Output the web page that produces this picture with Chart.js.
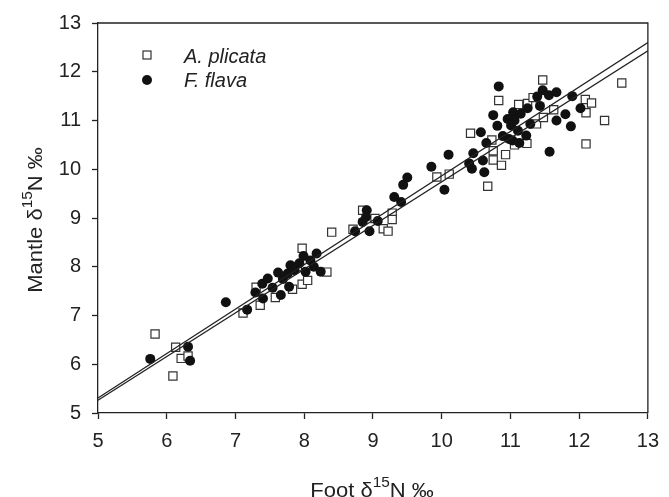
<!DOCTYPE html>
<html>
<head>
<meta charset="utf-8">
<script src="https://cdn.jsdelivr.net/npm/chart.js@4/dist/chart.umd.min.js"></script>
<style>
  html, body { margin: 0; padding: 0; background: #fff; }
  #wrap { width: 669px; height: 497px; }
</style>
</head>
<body>
<div id="wrap"><canvas id="isotopeChart" width="669" height="497"></canvas></div>
<script>
// foot vs mantle d15N, two species
const footPlicata = [5.83, 6.13, 6.21, 6.31, 6.09, 7.11, 7.30, 7.36, 7.58, 7.83, 7.97, 8.05, 7.97, 7.90, 8.33,
  8.40, 8.71, 8.85, 9.03, 9.15, 9.22, 9.28, 9.28, 9.93, 10.11, 10.42, 10.67, 10.73, 10.75, 10.75, 10.87,
  10.93, 10.83, 11.12, 11.24, 11.25, 11.38, 11.33, 11.47, 11.48, 11.63, 12.09, 12.18, 12.10, 12.10, 12.37,
  12.62, 11.06];
const mantlePlicata = [6.62, 6.35, 6.12, 6.17, 5.76, 7.05, 7.58, 7.21, 7.37, 7.54, 7.64, 7.72, 8.38, 8.00, 7.89,
  8.71, 8.77, 9.16, 8.99, 8.78, 8.73, 9.10, 8.97, 9.84, 9.90, 10.74, 9.65, 10.60, 10.38, 10.19, 10.08,
  10.30, 11.41, 11.33, 10.53, 11.35, 10.93, 11.47, 11.83, 11.06, 11.22, 11.43, 11.36, 11.16, 10.52, 11.00,
  11.77, 10.50];

const footFlava = [5.76, 6.31, 6.34, 6.86, 7.17, 7.29, 7.39, 7.40, 7.47, 7.54, 7.62, 7.66, 7.69, 7.76, 7.80,
  7.78, 7.86, 7.93, 7.99, 8.02, 8.09, 8.18, 8.14, 8.24, 8.74, 8.85, 8.91, 8.90, 8.95, 9.07, 9.31, 9.41,
  9.44, 9.50, 9.85, 10.04, 10.10, 10.40, 10.44, 10.46, 10.57, 10.60, 10.62, 10.65, 10.75, 10.83, 10.81,
  10.89, 10.98, 11.04, 11.06, 11.15, 10.96, 11.01, 11.11, 11.23, 11.29, 11.03, 11.13, 11.25, 11.39, 11.43,
  11.47, 11.56, 11.67, 11.57, 11.67, 11.80, 11.90, 11.88, 12.02];
const mantleFlava = [6.11, 6.36, 6.07, 7.27, 7.12, 7.47, 7.65, 7.35, 7.76, 7.57, 7.88, 7.42, 7.75, 7.86, 8.03,
  7.59, 7.93, 8.07, 8.22, 7.90, 8.13, 8.27, 8.00, 7.90, 8.73, 8.92, 9.16, 9.02, 8.73, 8.94, 9.43, 9.33,
  9.68, 9.83, 10.05, 9.58, 10.30, 10.12, 10.01, 10.33, 10.76, 10.18, 9.94, 10.54, 11.11, 11.70, 10.89,
  10.68, 10.62, 11.17, 11.00, 11.14, 11.03, 10.90, 10.79, 10.69, 10.93, 10.59, 10.54, 11.25, 11.49, 11.30,
  11.62, 11.52, 11.58, 10.36, 11.00, 11.13, 11.50, 10.88, 11.25];

// fitted regression lines, end points at the axis limits
const fitFoot = [5, 13];
const fitPlicata = [5.31, 12.60];
const fitFlava = [5.26, 12.43];

const xTicks = [5, 6, 7, 8, 9, 10, 11, 12, 13];
const yTicks = [5, 6, 7, 8, 9, 10, 11, 12, 13];

const INK = "#222";
const FONT = '"Liberation Sans", Arial, sans-serif';

const toPoints = (xs, ys) => xs.map((x, i) => ({ x: x, y: ys[i] }));

// axis title with a raised "15", stretched a little wider than the tick font
function drawIsoLabel(ctx, pre, sup, post, cx, baseY, size) {
  const main = size + "px " + FONT;
  const small = Math.round(size * 0.7) + "px " + FONT;
  ctx.font = main;
  const w1 = ctx.measureText(pre).width;
  const w3 = ctx.measureText(post).width;
  ctx.font = small;
  const w2 = ctx.measureText(sup).width;
  ctx.save();
  ctx.translate(cx, baseY);
  ctx.scale(1.1, 1);
  let x = -(w1 + w2 + w3) / 2;
  ctx.textAlign = "left";
  ctx.textBaseline = "alphabetic";
  ctx.font = main;
  ctx.fillText(pre, x, 0);
  x += w1;
  ctx.font = small;
  ctx.fillText(sup, x, -size * 0.5);
  x += w2;
  ctx.font = main;
  ctx.fillText(post, x, 0);
  ctx.restore();
}

const decorPlugin = {
  id: "decor",
  afterDraw(chart) {
    const { ctx, chartArea: a } = chart;
    ctx.save();

    // close the frame on top and right
    ctx.strokeStyle = INK;
    ctx.lineWidth = 1.3;
    ctx.beginPath();
    ctx.moveTo(a.left, a.top);
    ctx.lineTo(a.right, a.top);
    ctx.lineTo(a.right, a.bottom);
    ctx.stroke();

    ctx.fillStyle = INK;
    drawIsoLabel(ctx, "Foot \u03b4", "15", "N \u2030", 372, 497, 20);

    ctx.save();
    ctx.translate(42, 220);
    ctx.rotate(-Math.PI / 2);
    drawIsoLabel(ctx, "Mantle \u03b4", "15", "N \u2030", 0, 0, 20);
    ctx.restore();

    // legend
    ctx.lineWidth = 1.2;
    ctx.strokeStyle = "#333";
    ctx.fillStyle = "#fff";
    ctx.fillRect(143, 51, 8, 8);
    ctx.strokeRect(143, 51, 8, 8);
    ctx.fillStyle = "#111";
    ctx.beginPath();
    ctx.arc(147, 80, 5, 0, Math.PI * 2);
    ctx.fill();

    ctx.fillStyle = INK;
    ctx.font = "italic 20px " + FONT;
    ctx.textAlign = "left";
    ctx.textBaseline = "alphabetic";
    ctx.fillText("A. plicata", 184, 63);
    ctx.fillText("F. flava", 184, 87);
    ctx.restore();
  }
};

const ctx = document.getElementById("isotopeChart").getContext("2d");
new Chart(ctx, {
  type: "scatter",
  data: {
    datasets: [
      {
        label: "A. plicata",
        data: toPoints(footPlicata, mantlePlicata),
        pointStyle: "rect",
        pointRadius: 5.8,
        pointBackgroundColor: "#fff",
        pointBorderColor: "#333",
        pointBorderWidth: 1.2,
        order: 3
      },
      {
        label: "F. flava",
        data: toPoints(footFlava, mantleFlava),
        pointStyle: "circle",
        pointRadius: 5,
        pointBackgroundColor: "#111",
        pointBorderColor: "#111",
        pointBorderWidth: 0,
        order: 2
      },
      {
        label: "fit A",
        type: "line",
        data: toPoints(fitFoot, fitPlicata),
        borderColor: INK,
        borderWidth: 1.2,
        pointRadius: 0,
        fill: false,
        order: 1
      },
      {
        label: "fit F",
        type: "line",
        data: toPoints(fitFoot, fitFlava),
        borderColor: INK,
        borderWidth: 1.2,
        pointRadius: 0,
        fill: false,
        order: 1
      }
    ]
  },
  options: {
    responsive: false,
    animation: false,
    devicePixelRatio: 1,
    layout: { padding: { top: 22, right: 14, left: 0, bottom: 0 } },
    plugins: { legend: { display: false }, tooltip: { enabled: false } },
    scales: {
      x: {
        type: "linear",
        min: 5,
        max: 13,
        afterFit: (s) => { s.height = 84; },
        afterBuildTicks: (s) => { s.ticks = xTicks.map((v) => ({ value: v })); },
        ticks: { color: INK, font: { family: FONT, size: 20 }, padding: 10 },
        grid: { drawOnChartArea: false, drawTicks: true, tickLength: 6, tickColor: INK, tickWidth: 1.3 },
        border: { color: INK, width: 1.3 }
      },
      y: {
        type: "linear",
        min: 5,
        max: 13,
        afterFit: (s) => { s.width = 98; },
        afterBuildTicks: (s) => { s.ticks = yTicks.map((v) => ({ value: v })); },
        ticks: { color: INK, font: { family: FONT, size: 20 }, padding: 11 },
        grid: { drawOnChartArea: false, drawTicks: true, tickLength: 6, tickColor: INK, tickWidth: 1.3 },
        border: { color: INK, width: 1.3 }
      }
    }
  },
  plugins: [decorPlugin]
});
</script>
</body>
</html>
